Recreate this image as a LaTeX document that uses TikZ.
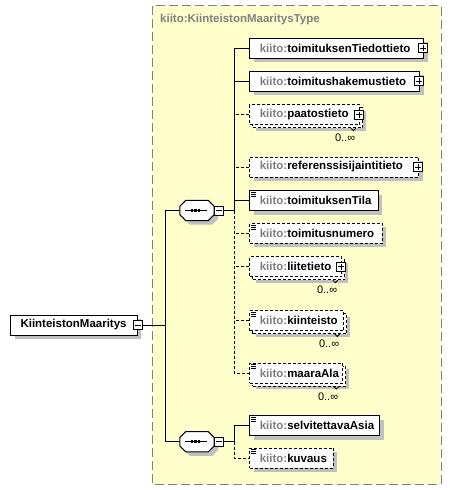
\documentclass[tikz,border=0pt]{standalone}
\usepackage{fontspec}
\setmainfont{Liberation Sans}
\usetikzlibrary{shadows}
\definecolor{kyellow}{RGB}{255,255,204}
\definecolor{kgray}{RGB}{128,128,128}
\definecolor{kshadow}{RGB}{192,192,192}
\definecolor{kborder}{RGB}{128,128,128}
\newcommand\kt[2]{\makebox[#1pt][l]{\hspace*{10pt}\textcolor{kgray}{kiito:}#2}}
\tikzset{
  elfont/.style={font=\fontsize{11.5}{13}\selectfont\bfseries},
  base/.style={draw=black, line width=1pt, fill=white, inner sep=0pt,
    minimum height=20pt, anchor=west, elfont},
  shad/.style={general shadow={draw=none, fill=kshadow, shadow xshift=4pt, shadow yshift=-4pt}},
  reqel/.style={base, shad},
  optel/.style={base, shad, dash pattern=on 3pt off 2pt},
  multel/.style={base, dash pattern=on 3pt off 2pt,
    general shadow={draw=none, fill=kshadow, shadow xshift=6pt, shadow yshift=-6pt},
    general shadow={draw=black, fill=white, line width=1pt, dash pattern=on 3pt off 2pt,
      shadow xshift=3pt, shadow yshift=-3pt}},
  docel/.style={path picture={
    \foreach \dy in {1.7,3.7,5.7}{
      \draw[line width=0.9pt, solid] ([shift={(1.5pt,-\dy pt)}]path picture bounding box.north west) -- ++(5pt,0pt);}}},
  plusbox/.style={draw=black, line width=1pt, fill=white, solid, minimum size=9pt, inner sep=0pt,
    path picture={
      \draw[line width=1pt] ([xshift=1.5pt]path picture bounding box.west) -- ([xshift=-1.5pt]path picture bounding box.east);
      \draw[line width=1pt] ([yshift=1.5pt]path picture bounding box.south) -- ([yshift=-1.5pt]path picture bounding box.north);}},
  minusbox/.style={draw=black, line width=1pt, fill=white, solid, minimum size=9pt, inner sep=0pt,
    path picture={
      \draw[line width=1pt] ([xshift=1.5pt]path picture bounding box.west) -- ([xshift=-1.5pt]path picture bounding box.east);}},
  seqcore/.style={inner sep=0pt, minimum width=34pt, minimum height=20pt},
  seqline/.style={draw=black, line width=1pt, fill=white,
    general shadow={draw=none, fill=kshadow, shadow xshift=4pt, shadow yshift=-4pt}},
  conn/.style={draw=black, line width=1pt},
  optconn/.style={conn, dash pattern=on 3pt off 2pt},
  mult/.style={font=\fontsize{11}{13}\selectfont, inner sep=0pt},
  notch/.style={draw=black, line width=0.8pt},
  title/.style={font=\fontsize{11.5}{13}\selectfont\bfseries, text=kgray, inner sep=0pt, anchor=west},
}
\begin{document}
\begin{tikzpicture}[x=1pt,y=-1pt]
\useasboundingbox (0,0) rectangle (452,490);
% container
\fill[kyellow] (152.7,5.7) rectangle (441,484);
\draw[kborder, line width=1pt, dash pattern=on 9pt off 4pt] (152.7,5.7) rectangle (441,484);
\node[title] (ttl) at (160,19.5) {kiito:KiinteistonMaaritysType};

% root
\node[reqel] (root) at (10,325) {\makebox[126.7pt][l]{\hspace*{10pt}KiinteistonMaaritys}};
\node[minusbox] (rootm) at (root.east) {};

% sequences
\node[seqcore] (s1) at (197,210.5) {};
\node[seqcore] (s2) at (197,441.7) {};
\foreach \s in {s1,s2}{
  \draw[seqline] ([xshift=6pt]\s.north west) -- ([xshift=-6pt]\s.north east) -- ([yshift=-6pt]\s.north east)
    -- ([yshift=6pt]\s.south east) -- ([xshift=-6pt]\s.south east) -- ([xshift=6pt]\s.south west)
    -- ([yshift=6pt]\s.south west) -- ([yshift=-6pt]\s.north west) -- cycle;
  \draw[line width=1pt] ([xshift=-12pt]\s.center) -- ([xshift=10pt]\s.center);
  \foreach \dx in {-5,-1.5,2}{
    \fill ([shift={(\dx pt-1.2pt,-1.3pt)}]\s.center) rectangle ++(2.6pt,2.6pt);}
}
\node[minusbox, anchor=west] (m1) at (s1.east) {};
\node[minusbox, anchor=west] (m2) at (s2.east) {};

% elements of sequence 1
\node[reqel] (e1) at (249.3,48.3) {\kt{174}{toimituksenTiedottieto}};
\node[reqel] (e2) at (249.3,81) {\kt{170}{toimitushakemustieto}};
\node[multel] (e3) at (249.3,114.7) {\kt{110}{paatostieto}};
\node[optel] (e4) at (249.3,167) {\kt{169}{referenssisijaintitieto}};
\node[reqel, docel] (e5) at (249.3,200.5) {\kt{128.4}{toimituksenTila}};
\node[optel, docel] (e6) at (249.3,233.3) {\kt{132.4}{toimitusnumero}};
\node[multel] (e7) at (249.3,266.7) {\kt{92}{liitetieto}};
\node[multel, docel] (e8) at (249.3,320.5) {\kt{94}{kiinteisto}};
\node[multel, docel] (e9) at (249.3,373) {\kt{93}{maaraAla}};
% elements of sequence 2
\node[reqel, docel] (e10) at (249.3,425.5) {\kt{130}{selvitettavaAsia}};
\node[optel, docel] (e11) at (249.3,458) {\kt{83.4}{kuvaus}};

% plus boxes
\foreach \e in {e1,e2,e3,e4,e7}{
  \node[plusbox] (\e p) at ([xshift=-1pt]\e.east) {};
}
% multiplicity notches and labels
\foreach \e in {e3,e7,e8,e9}{
  \draw[notch] ([shift={(-9.5pt,-3pt)}]\e.south east) -- ++(2.5pt,-2.5pt) -- ++(2.5pt,2.5pt);
  \node[mult, anchor=east] (\e l) at ([shift={(-5pt,-13pt)}]\e.south east) {0..∞};
}

% connectors
\coordinate (j0) at (165,325);
\coordinate (j1) at (234.3,210.5);
\coordinate (j2) at (234.3,441.7);
\draw[conn] (rootm.east) -- (j0);
\draw[conn] (s1.west) -| (j0);
\draw[conn] (s2.west) -| (j0);
\draw[conn] (m1.east) -- (j1);
\draw[conn] (m2.east) -- (j2);
\draw[conn] (e1.west) -| (j1);
\draw[conn] (e2.west) -- (e2.west -| j1);
\draw[conn] (e5.west) -- (e5.west -| j1);
\draw[optconn] (e3.west) -- (e3.west -| j1);
\draw[optconn] (e4.west) -- (e4.west -| j1);
\draw[optconn] (e6.west) -- (e6.west -| j1);
\draw[optconn] (e7.west) -- (e7.west -| j1);
\draw[optconn] (e8.west) -- (e8.west -| j1);
\draw[optconn] (j1) -- (e9.west -| j1) -- (e9.west);
\draw[conn] (e10.west) -| (j2);
\draw[optconn] (j2) -- (e11.west -| j2) -- (e11.west);
\end{tikzpicture}
\end{document}
